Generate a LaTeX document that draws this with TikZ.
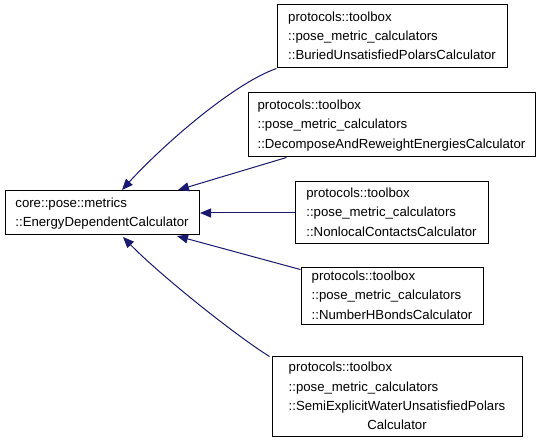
\documentclass[tikz,border=0pt]{standalone}
\usepackage{fontspec}
\setmainfont{Liberation Sans}
\usetikzlibrary{arrows.meta}
\definecolor{edgeblue}{HTML}{191970}
\tikzset{
  cls/.style={draw=black, line width=1pt, inner sep=0pt, font=\fontsize{13.2}{19.3}\selectfont},
  inh/.style={draw=edgeblue, line width=1pt, -{Triangle[length=11pt,width=9pt,fill=edgeblue]}},
}
\newcommand{\lines}[1]{\begin{tabular}{@{}l@{}}#1\end{tabular}}
\begin{document}
\begin{tikzpicture}[x=1pt,y=-1pt]
\useasboundingbox (0,0) rectangle (541,443);
\fill[white] (0,0) rectangle (541,443);
\node[cls, minimum width=194pt, minimum height=44pt] (base) at (102,213)
  {\lines{core::pose::metrics\\::EnergyDependentCalculator}};
\node[cls, minimum width=230pt, minimum height=63pt] (b1) at (392,36.5)
  {\lines{protocols::toolbox\\::pose\_metric\_calculators\\::BuriedUnsatisfiedPolarsCalculator}};
\node[cls, minimum width=287pt, minimum height=64pt] (b2) at (391.5,125)
  {\lines{protocols::toolbox\\::pose\_metric\_calculators\\::DecomposeAndReweightEnergiesCalculator}};
\node[cls, minimum width=193pt, minimum height=62pt] (b3) at (391.5,213)
  {\lines{protocols::toolbox\\::pose\_metric\_calculators\\::NonlocalContactsCalculator}};
\node[cls, minimum width=182pt, minimum height=54pt] (b4) at (392,296)
  {\lines{protocols::toolbox\\::pose\_metric\_calculators\\::NumberHBondsCalculator}};
\node[cls, minimum width=250pt, minimum height=80pt] (b5) at (397,397)
  {\lines{protocols::toolbox\\::pose\_metric\_calculators\\::SemiExplicitWaterUnsatisfiedPolars\\\multicolumn{1}{@{}c@{}}{Calculator}}};
\coordinate (t1) at (122,190);
\coordinate (t2) at (178,190);
\coordinate (t3) at (200,213);
\coordinate (t4) at (177,236);
\coordinate (t5) at (123,237);
\draw[inh] (b1.south west) .. controls (232,84) and (160,148) .. (t1);
\draw[inh] ([xshift=39pt]b2.south west) -- (t2);
\draw[inh] (b3.west) -- (t3);
\draw[inh] ([yshift=-3pt]b4.north west) -- (t4);
\draw[inh] ([xshift=-2pt]b5.north west) .. controls (235,335) and (160,275) .. (t5);
\end{tikzpicture}
\end{document}
